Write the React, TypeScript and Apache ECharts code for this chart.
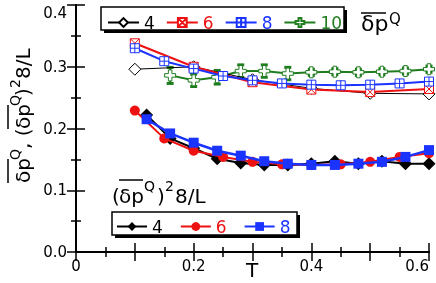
import React, { useEffect, useRef } from 'react';
import * as echarts from 'echarts';

// ---- data ----
const T_TOP4 = [0.1, 0.2, 0.3, 0.4, 0.5, 0.6];
const V_TOP4 = [0.296, 0.300, 0.279, 0.265, 0.257, 0.256];
const T_TOP6 = [0.1, 0.2, 0.3, 0.4, 0.5, 0.6];
const V_TOP6 = [0.338, 0.300, 0.275, 0.263, 0.259, 0.264];
const T_TOP8 = [0.1, 0.15, 0.2, 0.25, 0.3, 0.35, 0.4, 0.45, 0.5, 0.55, 0.6];
const V_TOP8 = [0.330, 0.309, 0.297, 0.285, 0.278, 0.273, 0.271, 0.270, 0.271, 0.273, 0.276];
const T_TOP10 = [0.16, 0.2, 0.24, 0.28, 0.32, 0.36, 0.4, 0.44, 0.48, 0.52, 0.56, 0.6];
const V_TOP10 = [0.286, 0.278, 0.283, 0.293, 0.293, 0.289, 0.291, 0.292, 0.291, 0.292, 0.293, 0.296];
const E_TOP10 = [0.013, 0.010, 0.011, 0.010, 0.010, 0.010, 0.005, 0.005, 0.005, 0.005, 0.005, 0.005];

const T_BOT4 = [0.12, 0.16, 0.2, 0.24, 0.28, 0.32, 0.36, 0.4, 0.44, 0.48, 0.52, 0.56, 0.6];
const V_BOT4 = [0.222, 0.184, 0.168, 0.151, 0.144, 0.141, 0.141, 0.143, 0.147, 0.143, 0.147, 0.143, 0.143];
const T_BOT6 = [0.1, 0.15, 0.2, 0.25, 0.3, 0.35, 0.4, 0.45, 0.5, 0.55, 0.6];
const V_BOT6 = [0.229, 0.184, 0.164, 0.154, 0.146, 0.142, 0.141, 0.142, 0.146, 0.154, 0.160];
const T_BOT8 = [0.12, 0.16, 0.2, 0.24, 0.28, 0.32, 0.36, 0.4, 0.44, 0.48, 0.52, 0.56, 0.6];
const V_BOT8 = [0.215, 0.192, 0.177, 0.164, 0.156, 0.147, 0.143, 0.141, 0.141, 0.143, 0.146, 0.154, 0.165];

const X_LABELS = ['0', '0.2', '0.4', '0.6'];
const TOP_LEGEND = ['a4', 'a6', 'a8', 'a10'];
const BOT_LEGEND = ['b4', 'b6', 'b8'];

const BLACK = '#000000';
const RED = '#ee1111';
const BLUE = '#1a33ff';
const GREEN = '#1f7d1f';
const FONT = 'DejaVu Sans';

const SYM_SQPLUS = 'path://M0,0H10V10H0Z M5,0V10 M0,5H10';
const SYM_SQX = 'path://M0,0H10V10H0Z M0,0L10,10 M10,0L0,10';
const SYM_PLUS = 'path://M3.4,0H6.6V3.4H10V6.6H6.6V10H3.4V6.6H0V3.4H3.4Z';

const zip = (t: number[], v: number[]) => t.map((x, i) => [x, v[i]]);

const txt = (text: string, x: number, y: number, size: number, extra: any = {}) => ({
  type: 'text',
  x,
  y,
  z: 30,
  style: { text, fontSize: size, fontFamily: FONT, fill: '#000', align: 'left', verticalAlign: 'middle', ...extra },
});
const oline = (x1: number, y1: number, x2: number, y2: number) => ({
  type: 'line',
  z: 30,
  shape: { x1, y1, x2, y2 },
  style: { stroke: '#000', lineWidth: 1.5 },
});

export default function App() {
  const ref = useRef<HTMLDivElement>(null);
  useEffect(() => {
    if (!ref.current) return;
    const chart = echarts.init(ref.current, undefined, { renderer: 'svg' });

    const axisCommon = {
      axisLine: { show: true, lineStyle: { color: '#000', width: 2 } },
      axisTick: { show: true, inside: true, length: 9, lineStyle: { color: '#000', width: 1.5 } },
      minorTick: { show: true, splitNumber: 2, length: 5, lineStyle: { color: '#000', width: 1.5 } },
      splitLine: { show: false },
      minorSplitLine: { show: false },
    };

    const xLabel = (v: number) => {
      const k = Math.round(v / 0.2);
      if (Math.abs(v / 0.2 - k) > 1e-6) return '';
      return X_LABELS[k] ?? '';
    };

    const lineSeries = (name: string, data: number[][], color: string, lw: number, symbol: string, size: number, filled: boolean, z: number) => ({
      type: 'line',
      name,
      data,
      z,
      symbol,
      symbolSize: size,
      showSymbol: true,
      lineStyle: { color, width: lw },
      itemStyle: filled
        ? { color, borderColor: color, borderWidth: 0 }
        : { color: '#ffffff', borderColor: color, borderWidth: 1 },
      emphasis: { disabled: true },
    });

    const option: any = {
      animation: false,
      grid: { left: 76, right: 7, top: 5, bottom: 31 },
      xAxis: [
        {
          type: 'value', min: 0, max: 0.6, interval: 0.1, ...axisCommon,
          axisLabel: { formatter: xLabel, fontSize: 15, fontFamily: FONT, color: '#000', margin: 6, alignMaxLabel: 'right' },
        },
        {
          type: 'value', position: 'top', min: 0, max: 0.6, interval: 0.1, ...axisCommon,
          axisLabel: { show: false },
        },
      ],
      yAxis: [
        {
          type: 'value', min: 0, max: 0.4, interval: 0.1, ...axisCommon,
          axisLabel: { formatter: (v: number) => v.toFixed(1), fontSize: 15, fontFamily: FONT, color: '#000', margin: 9, verticalAlignMaxLabel: 'top' },
        },
        {
          type: 'value', position: 'right', min: 0, max: 0.4, interval: 0.1, ...axisCommon,
          axisLabel: { show: false },
        },
      ],
      legend: [
        {
          data: TOP_LEGEND.map((n, i) => ({ name: n, textStyle: { color: [BLACK, RED, BLUE, GREEN][i] } })),
          formatter: (n: string) => n.slice(1),
          left: 107, top: 14, padding: 0, itemWidth: 31, itemHeight: 11, itemGap: 11,
          textStyle: { fontSize: 17, fontFamily: FONT },
          selectedMode: false, z: 20,
        },
        {
          data: BOT_LEGEND.map((n, i) => ({ name: n, textStyle: { color: [BLACK, RED, BLUE][i] } })),
          formatter: (n: string) => n.slice(1),
          left: 116, top: 218, padding: 0, itemWidth: 30, itemHeight: 11, itemGap: 17,
          textStyle: { fontSize: 17, fontFamily: FONT },
          selectedMode: false, z: 20,
        },
      ],
      series: [
        {
          type: 'custom',
          name: 'err10',
          z: 1,
          data: T_TOP10.map((t, i) => [t, V_TOP10[i], E_TOP10[i]]),
          renderItem: (params: any, api: any) => {
            const x = api.value(0), v = api.value(1), e = api.value(2);
            const top = api.coord([x, v + e]);
            const bot = api.coord([x, v - e]);
            return {
              type: 'group',
              children: [
                { type: 'line', shape: { x1: top[0], y1: top[1], x2: bot[0], y2: bot[1] }, style: { stroke: GREEN, lineWidth: 2 } },
                { type: 'rect', shape: { x: top[0] - 3.5, y: top[1] - 1.5, width: 7, height: 3 }, style: { fill: GREEN } },
                { type: 'rect', shape: { x: bot[0] - 3.5, y: bot[1] - 1.5, width: 7, height: 3 }, style: { fill: GREEN } },
              ],
            };
          },
        },
        lineSeries('a10', zip(T_TOP10, V_TOP10), GREEN, 2, SYM_PLUS, 11, false, 2),
        lineSeries('a4', zip(T_TOP4, V_TOP4), BLACK, 1, 'diamond', 12, false, 3),
        lineSeries('a6', zip(T_TOP6, V_TOP6), RED, 2, SYM_SQX, 9, false, 4),
        lineSeries('a8', zip(T_TOP8, V_TOP8), BLUE, 2, SYM_SQPLUS, 9, false, 5),
        lineSeries('b4', zip(T_BOT4, V_BOT4), BLACK, 2, 'diamond', 13, true, 3),
        lineSeries('b6', zip(T_BOT6, V_BOT6), RED, 2, 'circle', 10, true, 4),
        lineSeries('b8', zip(T_BOT8, V_BOT8), BLUE, 2.5, 'rect', 10, true, 5),
      ],
      graphic: [
        // legend boxes with hard shadows
        { type: 'rect', z: 10, shape: { x: 104, y: 10, width: 243, height: 23 }, style: { fill: '#000' } },
        { type: 'rect', z: 11, shape: { x: 101, y: 7, width: 243, height: 23 }, style: { fill: '#fff', stroke: '#000', lineWidth: 1.5 } },
        { type: 'rect', z: 10, shape: { x: 115, y: 215, width: 185, height: 23 }, style: { fill: '#000' } },
        { type: 'rect', z: 11, shape: { x: 112, y: 212, width: 185, height: 23 }, style: { fill: '#fff', stroke: '#000', lineWidth: 1.5 } },
        // top-right label
        txt('δp', 361, 23.5, 22),
        txt('Q', 389, 18.5, 15),
        oline(361, 13, 386, 13),
        // bottom legend title
        txt('(', 112, 196, 20),
        txt('δp', 119, 196, 20),
        txt('Q', 144, 186, 14),
        txt(')', 157, 196, 20),
        txt('2', 165, 186, 14),
        txt('8/L', 175, 196, 20),
        oline(119, 180, 143, 180),
        // x axis title
        txt('T', 252, 270, 20, { align: 'center' }),
        // y axis title (rotated)
        {
          type: 'group',
          x: 30,
          y: 183,
          rotation: Math.PI / 2,
          children: [
            txt('δp', 0, -7, 20),
            txt('Q', 23, -15, 14),
            txt(', (', 34, -7, 20),
            txt('δp', 54, -7, 20),
            txt('Q', 77, -15, 14),
            txt(')', 87, -7, 20),
            txt('2', 95, -15, 14),
            txt('8/L', 104, -7, 20),
            oline(0, -22, 24, -22),
            oline(54, -22, 78, -22),
          ],
        },
      ],
    };
    chart.setOption(option);
    return () => chart.dispose();
  }, []);
  return <div ref={ref} style={{ position: 'fixed', left: 0, top: 0, width: 436, height: 283 }} />;
}
